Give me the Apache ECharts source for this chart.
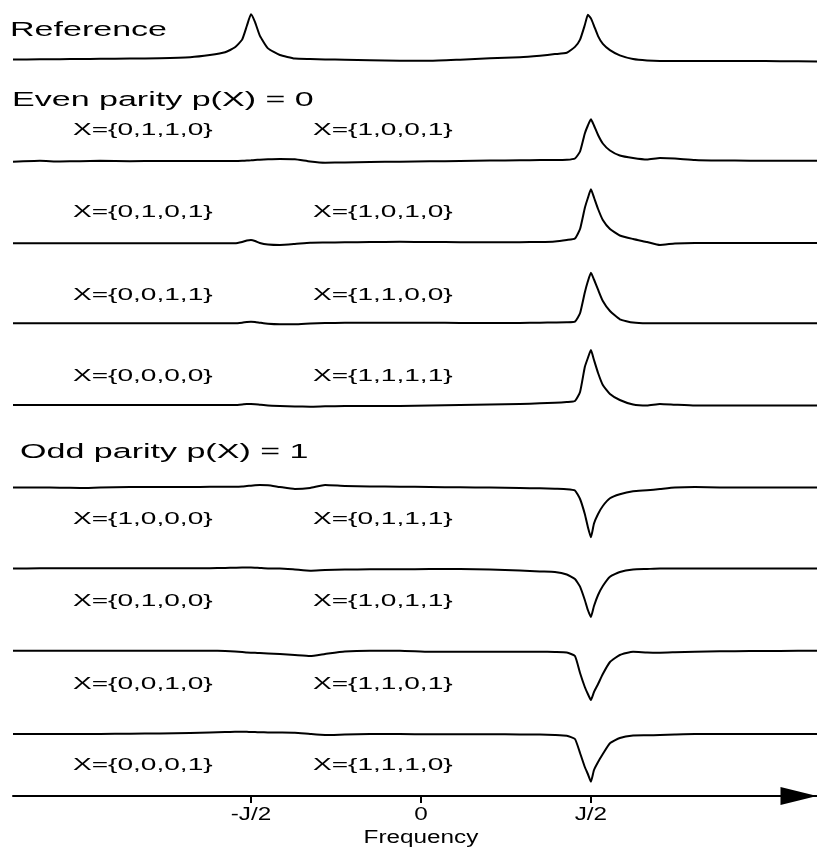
<!DOCTYPE html>
<html><head><meta charset="utf-8">
<script src="https://cdn.jsdelivr.net/npm/echarts@6/dist/echarts.min.js"></script>
<style>html,body{margin:0;padding:0;background:#fff}#c{width:817px;height:852px}</style>
</head><body><div id="c"></div>
<script>
// Frequency sample points, in units of J
const freq = [-1.2,-1.121,-1.062,-1.003,-0.944,-0.856,-0.768,-0.679,-0.621,-0.576,-0.547,-0.526,-0.512,-0.5,-0.488,-0.474,-0.45,-0.415,-0.371,-0.326,-0.282,-0.224,-0.15,-0.062,0.026,0.115,0.203,0.291,0.35,0.394,0.429,0.453,0.468,0.482,0.491,0.5,0.509,0.521,0.535,0.556,0.585,0.624,0.665,0.703,0.747,0.806,0.879,0.968,1.056,1.165];

// Spectra (arbitrary units)
const reference = [-0.5,-0.3,-0.2,0,0.2,0.5,0.8,1.8,4,6.8,11.9,19.7,33.8,45.5,37.5,23.8,10.8,4.1,0.5,0,-0.4,-0.8,-1.2,-1.7,-1.9,-0.7,0.7,1.8,3.4,5,6.3,12.3,19.7,34.5,45,41.3,33.8,23.3,15.3,9,3.7,0,-1.5,-2,-2,-2,-2,-2,-2.3,-2.5];
const even0110 = [-1.2,-0.3,-1,-0.7,-0.3,-0.7,-0.5,-0.5,-0.5,-0.5,-0.5,-0.3,0,0.2,0.5,0.8,1.2,1.5,1.2,-1,-2.2,-2,-1.5,-1.2,-0.8,-0.5,0,0.2,0.5,0.5,0.7,2,9,27,35,41.2,35,25.5,17,10,5,2.5,1,2.5,2,0.5,0,-0.2,-0.2,-0.2];
const even0101 = [-0.3,-0.3,-0.3,-0.3,-0.3,-0.3,-0.3,-0.3,-0.3,-0.3,-0.3,1,2.5,3,2,0,-1.5,-2,-1,0.3,0.5,0.7,1,1.2,1,0.8,0.7,0.8,1,1.5,3,4.5,14,35,45,53.7,45.5,34,23,14,7.5,4,1,-2,-0.5,0,0,0,0,0];
const even0011 = [-0.3,-0.3,-0.3,-0.3,-0.3,-0.3,-0.3,-0.3,-0.3,-0.3,-0.3,0.3,1,1.3,1,0.3,-0.8,-1.3,-1.3,-0.5,0,0.2,0.3,0.3,0.3,0,0,0,0.3,0.5,0.7,1.3,9.7,30.5,41.7,50.3,43.5,33.3,22,12,3.7,0.4,-0.3,-0.3,-0.3,-0.3,-0.3,-0.3,-0.3,-0.3];
const even0000 = [0,0,0,0,0,0,0,0,0,0,0,0.5,1,1,0.8,0.3,-0.5,-1,-1.5,-1.7,-1.3,-1,-1,-1,-0.5,0,0.5,1,1.7,2.2,3,4,13,38,47,55,45,32,20,11,5,0.5,-0.5,1,0.3,-0.5,-0.5,-0.5,-0.5,-0.5];
const odd1000 = [-0.5,-0.5,-0.7,-1,-0.5,0,0,0,0.2,0.3,0.3,0.5,1,1.3,1.7,2,1.8,0,-2,-1,2,1,0.5,0.3,0,-0.3,-0.5,-1,-1.3,-1.8,-2.2,-3.5,-12,-27,-40,-50.3,-36.5,-27,-19,-11.3,-7.3,-4.3,-3.3,-2,-0.5,0,-0.5,-0.5,-0.5,-0.5];
const odd0100 = [0,0.2,0.2,0.2,0.2,0.2,0.2,0.2,0.3,0.5,0.8,1,1,1,0.8,0.5,0,0,-1,-2.2,-1.5,-1,-0.8,-0.8,-0.5,-0.5,-1,-2,-3,-3.5,-6,-10.5,-18.2,-31.5,-41.5,-48.5,-37.5,-26.5,-17.5,-8.2,-3.5,-1,-0.5,0,0,0,0,0,0,0];
const odd0010 = [0.3,0.3,0.3,0.3,0.3,0.3,0.3,0.3,0.3,0,-0.5,-1,-1.5,-1.7,-1.8,-2,-2.5,-3,-4,-5,-3,-0.5,0.3,0.3,-0.7,-0.7,-0.7,-0.7,-0.7,-1,-1.5,-5,-22,-36,-43,-49,-41,-33,-23,-11,-4,-0.7,-1.5,-1.7,-1.3,-0.7,-0.3,0,0,0.3];
const odd0001 = [0,0,0,0,0,0.3,0.5,1,1.5,2,2.3,2.3,2.2,2,1.9,1.8,1.6,1.5,1.3,0,-1,-0.5,0,0,-0.3,-0.3,-0.3,-0.4,-0.5,-1,-1.8,-5,-19,-33,-40,-47.7,-36,-28,-20,-9.3,-4,-1.5,-1.3,-1,-0.5,0,0,0,0,0];

const leftLabels = ['X={0,1,1,0}','X={0,1,0,1}','X={0,0,1,1}','X={0,0,0,0}','X={1,0,0,0}','X={0,1,0,0}','X={0,0,1,0}','X={0,0,0,1}'];
const rightLabels = ['X={1,0,0,1}','X={1,0,1,0}','X={1,1,0,0}','X={1,1,1,1}','X={0,1,1,1}','X={1,0,1,1}','X={1,1,0,1}','X={1,1,1,0}'];
const headers = ['Reference','Even parity p(X) = 0','Odd parity p(X) = 1'];
const tickValues = [-0.5, 0, 0.5];
const tickLabels = ['-J/2','0','J/2'];
const axisTitle = 'Frequency';

const traces = [reference, even0110, even0101, even0011, even0000, odd1000, odd0100, odd0010, odd0001];

// layout
const XMIN = -1.2, XMAX = 1.165;
const centers = [58, 160.5, 243, 323, 405, 487, 568.5, 651, 734];
const labelRowY = [130, 212, 295, 376, 519, 601, 684, 765];
const headerPos = [[10, 30], [12, 100], [20, 452]];
const FONT = '"Liberation Sans", Arial, Helvetica, sans-serif';

const grids = [], xAxes = [], yAxes = [], series = [];
centers.forEach((c, i) => {
  grids.push({left: 13, right: 0, top: c - 60, height: 120});
  xAxes.push({type: 'value', gridIndex: i, min: XMIN, max: XMAX, show: false});
  yAxes.push({type: 'value', gridIndex: i, min: -60, max: 60, show: false});
  series.push({
    type: 'line', xAxisIndex: i, yAxisIndex: i,
    data: freq.map((f, j) => [f, traces[i][j]]),
    showSymbol: false, symbol: 'none', clip: false, silent: true, smooth: 0.15,
    lineStyle: {color: '#000', width: 2, join: 'round'}
  });
});
const AX = centers.length;
grids.push({left: 13, right: 0, top: 795, height: 1});
xAxes.push({
  type: 'value', gridIndex: AX, min: XMIN, max: XMAX, position: 'bottom',
  axisLine: {show: true, onZero: false, lineStyle: {color: '#000', width: 2},
    symbol: ['none', 'triangle'], symbolSize: [18, 37], symbolOffset: [0, -18]},
  axisTick: {show: true, customValues: tickValues, length: 7, lineStyle: {color: '#000', width: 2}},
  axisLabel: {show: false}, splitLine: {show: false}
});
yAxes.push({type: 'value', gridIndex: AX, show: false});

function txt(text, x, y, size, sx, align) {
  return {type: 'text', x: x, y: y, scaleX: sx, silent: true,
    style: {text: text, font: size + 'px ' + FONT, fill: '#000', align: align || 'left', verticalAlign: 'middle'}};
}

const chart = echarts.init(document.getElementById('c'), null, {renderer: 'canvas'});
chart.setOption({animation: false, backgroundColor: '#fff', grid: grids, xAxis: xAxes, yAxis: yAxes, series: series});

const g = [];
headers.forEach((h, i) => g.push(txt(h, headerPos[i][0], headerPos[i][1], 20.5, 1.66)));
leftLabels.forEach((t, i) => g.push(txt(t, 73, labelRowY[i], 17, 1.65)));
rightLabels.forEach((t, i) => g.push(txt(t, 313, labelRowY[i], 17, 1.65)));
tickValues.forEach((v, i) => {
  const px = chart.convertToPixel({xAxisIndex: AX}, v);
  g.push(txt(tickLabels[i], px, 815, 18, 1.35, 'center'));
});
g.push(txt(axisTitle, chart.convertToPixel({xAxisIndex: AX}, 0), 838, 18, 1.35, 'center'));
chart.setOption({graphic: {elements: g}});
</script>
</body></html>
